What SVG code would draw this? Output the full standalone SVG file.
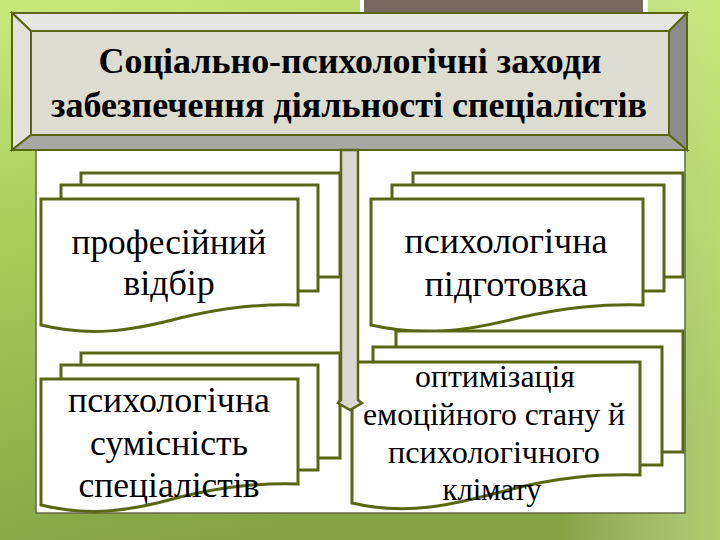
<svg xmlns="http://www.w3.org/2000/svg" width="720" height="540" viewBox="0 0 720 540">
<defs>
<linearGradient id="bg" x1="0" y1="0" x2="0.3" y2="1">
<stop offset="0" stop-color="#c9e87c"/>
<stop offset="0.45" stop-color="#a6c95a"/>
<stop offset="1" stop-color="#86a244"/>
</linearGradient>
<linearGradient id="bgr" x1="0" y1="0" x2="1" y2="0">
<stop offset="0" stop-color="#ffffff" stop-opacity="0"/>
<stop offset="1" stop-color="#d8f890" stop-opacity="0.5"/>
</linearGradient>
</defs>
<style>
.doc{fill:#ffffff;stroke:#5a6614;stroke-width:3;stroke-linejoin:miter}
.bev{stroke:#5a6614;stroke-width:2;stroke-linejoin:miter}
.t{font-family:"Liberation Serif","Times New Roman",serif;fill:#000;text-anchor:middle}
.title{font-size:35px;font-weight:bold}
.body{font-size:36px}
.body2{font-size:32px}
</style>
<rect x="0" y="0" width="720" height="540" fill="url(#bg)"/>
<rect x="560" y="0" width="160" height="540" fill="url(#bgr)"/>
<g id="topbar">
<rect x="360" y="0" width="288" height="15" fill="#ffffff"/>
<rect x="364" y="0" width="279" height="14" fill="#766a60"/>
</g>
<g id="panel">
<rect x="36" y="148" width="649" height="365" fill="#ffffff" stroke="#66684a" stroke-width="1.5"/>
</g>
<g id="title">
<polygon class="bev" points="12,13 687,13 669,31 31,31" fill="#e6e6e2"/>
<polygon class="bev" points="12,13 31,31 31,135 12,150" fill="#e2e2da"/>
<polygon class="bev" points="687,13 687,150 669,135 669,31" fill="#8c8c8a"/>
<polygon class="bev" points="12,150 687,150 669,135 31,135" fill="#a8a8a2"/>
<rect class="bev" x="31" y="31" width="638" height="104" fill="#dcdcd0"/>
<text class="t title" x="350" y="73" textLength="503" lengthAdjust="spacingAndGlyphs">Соціально-психологічні заходи</text>
<text class="t title" x="349" y="117" textLength="596" lengthAdjust="spacingAndGlyphs">забезпечення діяльності спеціалістів</text>
</g>
<g id="node-tl">
<rect class="doc" x="81" y="173" width="259" height="104"/>
<rect class="doc" x="61" y="185" width="257" height="106"/>
<path class="doc" d="M41,199 H298 V305 C259,304 226,307 180,318 C131,331 90,337 41,325 Z"/>
<text class="t body" x="169" y="254" textLength="195" lengthAdjust="spacingAndGlyphs">професійний</text>
<text class="t body" x="169" y="295">відбір</text>
</g>
<g id="node-tr">
<rect class="doc" x="413" y="173" width="270" height="104"/>
<rect class="doc" x="392" y="185" width="272" height="106"/>
<path class="doc" d="M371,199 H643 V305 C602,304 567,307 518,318 C466,331 423,337 371,325 Z"/>
<text class="t body" x="506" y="253" textLength="203" lengthAdjust="spacingAndGlyphs">психологічна</text>
<text class="t body" x="506" y="296" textLength="163" lengthAdjust="spacingAndGlyphs">підготовка</text>
</g>
<g id="node-bl">
<rect class="doc" x="81" y="353" width="259" height="105"/>
<rect class="doc" x="61" y="365" width="257" height="105"/>
<path class="doc" d="M41,379 H298 V484 C259,483 226,486 180,497 C131,511 90,517 41,505 Z"/>
<text class="t body" x="169" y="412" textLength="202" lengthAdjust="spacingAndGlyphs">психологічна</text>
<text class="t body" x="169" y="455" textLength="158" lengthAdjust="spacingAndGlyphs">сумісність</text>
<text class="t body" x="169" y="497" textLength="181" lengthAdjust="spacingAndGlyphs">спеціалістів</text>
</g>
<g id="node-br">
<rect class="doc" x="396" y="331" width="287" height="121"/>
<rect class="doc" x="373" y="347" width="289" height="118"/>
<path class="doc" d="M352,362 H640 V475 C597,474 559,477 508,490 C453,505 407,516 352,503 Z"/>
<text class="t body2" x="495" y="387" textLength="160" lengthAdjust="spacingAndGlyphs">оптимізація</text>
<text class="t body2" x="494" y="425" textLength="262" lengthAdjust="spacingAndGlyphs">емоційного стану й</text>
<text class="t body2" x="494" y="463" textLength="212" lengthAdjust="spacingAndGlyphs">психологічного</text>
<text class="t body2" x="492" y="500" textLength="99" lengthAdjust="spacingAndGlyphs">клімату</text>
</g>
<g id="connectors">
<polygon points="341,150 358,150 358,400 362,403 350,410 338,403 341,400" fill="#d8d8d0" stroke="#5a6614" stroke-width="2.5" stroke-linejoin="miter"/>
</g>
</svg>
